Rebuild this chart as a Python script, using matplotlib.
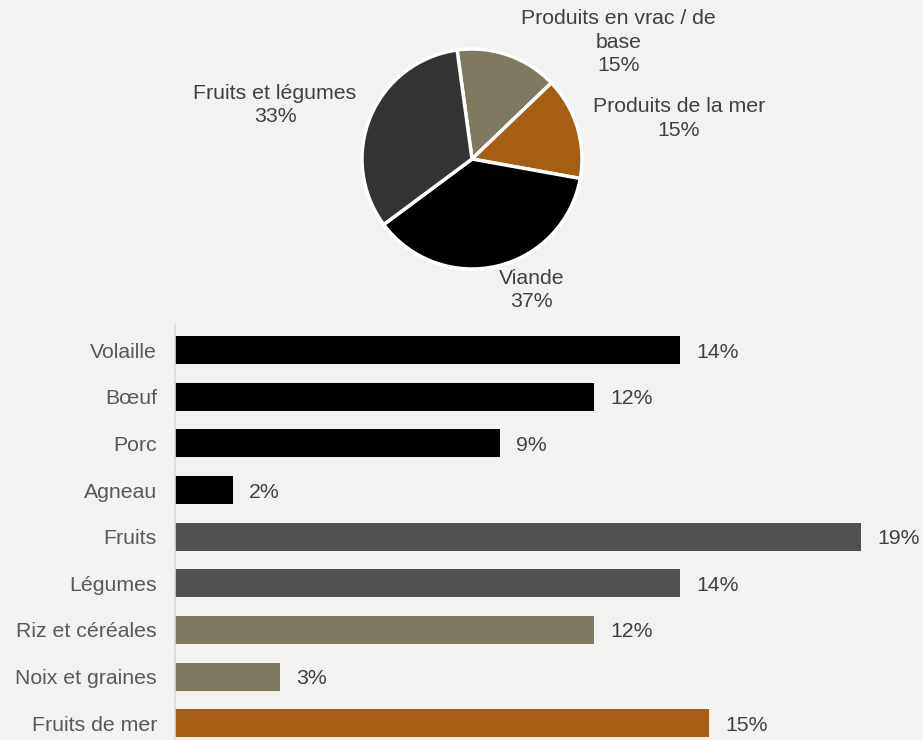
import matplotlib.pyplot as plt

plt.rcParams['font.family'] = ['Liberation Sans', 'DejaVu Sans']

# pie data
pie_labels = ['Produits en vrac / de\nbase', 'Produits de la mer', 'Viande', 'Fruits et légumes']
pie_values = [15, 15, 37, 33]
pie_colors = ['#7f7961', '#a65e12', '#000000', '#333333']

# bar data
bar_cats = ['Volaille', 'Bœuf', 'Porc', 'Agneau', 'Fruits', 'Légumes',
            'Riz et céréales', 'Noix et graines', 'Fruits de mer']
bar_values = [14.0, 11.6, 9.0, 1.6, 19.0, 14.0, 11.6, 2.9, 14.8]
bar_colors = ['#000000'] * 4 + ['#505050'] * 2 + ['#7f7961'] * 2 + ['#a65e12']

bg = '#f2f2f0'
txt = '#404040'
fs = 15.3

fig = plt.figure(figsize=(9.23, 7.40), dpi=100, facecolor=bg)

# pie
axp = fig.add_axes([322 / 923, 1 - 309 / 740, 300 / 923, 300 / 740])
axp.set_facecolor(bg)
axp.pie(pie_values, colors=pie_colors, startangle=97.8, counterclock=False,
        wedgeprops=dict(edgecolor='white', linewidth=2.5))
lim = 150 / 110
axp.set_xlim(-lim, lim)
axp.set_ylim(-lim, lim)
axp.set_aspect('equal')
axp.axis('off')

label_pos = [(1.33, 1.06), (1.88, 0.37), (0.54, -1.19), (-1.79, 0.49)]
for lab, v, (x, y) in zip(pie_labels, pie_values, label_pos):
    axp.text(x, y, f'{lab}\n{v}%', ha='center', va='center', fontsize=fs,
             color=txt, clip_on=False, linespacing=1.3)

# bars
ax = fig.add_axes([175 / 923, 0, 1 - 175 / 923, 1 - 325 / 740])
ax.set_facecolor(bg)
ypos = range(len(bar_cats))
ax.barh(ypos, bar_values, height=0.6, color=bar_colors)
ax.set_xlim(0, 748 / 36.1)
ax.set_ylim(8.36, -0.54)
ax.set_yticks(list(ypos))
ax.set_yticklabels(bar_cats, fontsize=fs, color='#595959')
ax.tick_params(axis='y', length=0, pad=13)
ax.set_xticks([])
for s in ['top', 'right', 'bottom']:
    ax.spines[s].set_visible(False)
ax.spines['left'].set_color('#d9d9d9')
ax.spines['left'].set_linewidth(1.2)

for y, v in zip(ypos, bar_values):
    ax.text(v + 0.45, y, f'{v:.0f}%', va='center_baseline', ha='left', fontsize=fs,
            color=txt, clip_on=False)

fig.savefig('out.png', dpi=100, facecolor=bg)
